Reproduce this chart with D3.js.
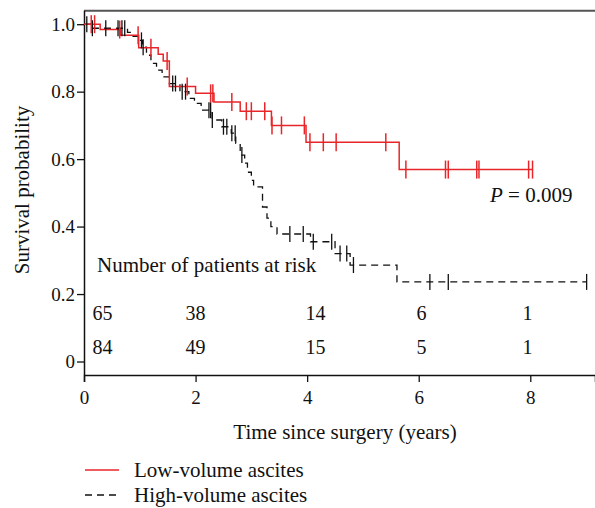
<!DOCTYPE html>
<html>
<head>
<meta charset="utf-8">
<script src="https://cdn.jsdelivr.net/npm/d3@7"></script>
<style>
  body { margin: 0; background: #fff; }
  text { font-family: "Liberation Serif", "DejaVu Serif", serif; fill: #111; }
</style>
</head>
<body>
<div class="diagram"></div>
<script>
// step changes [time, survival after drop]
const lowSteps = [[0.29, 0.984], [0.65, 0.967], [0.98, 0.930], [1.33, 0.911], [1.42, 0.891], [1.53, 0.815],
  [2.0, 0.795], [2.33, 0.769], [2.8, 0.742], [3.36, 0.700], [3.98, 0.650], [5.65, 0.569]];
const lowEnd = 8.05;
const lowCensor = [0.13, 0.19, 0.64, 0.97, 1.2, 1.49, 1.85, 2.27, 2.31, 2.65, 2.91, 3.0, 3.24, 3.37, 3.54,
  3.95, 4.05, 4.29, 4.52, 5.41, 5.77, 6.48, 6.53, 7.04, 7.08, 7.97, 8.04];

const highSteps = [[0.15, 0.988], [0.78, 0.976], [0.88, 0.964], [0.97, 0.952], [1.05, 0.932], [1.12, 0.908],
  [1.2, 0.884], [1.3, 0.864], [1.4, 0.844], [1.53, 0.824], [1.72, 0.800], [1.88, 0.780], [1.98, 0.765],
  [2.1, 0.745], [2.3, 0.716], [2.47, 0.696], [2.64, 0.677], [2.72, 0.647], [2.8, 0.612], [2.88, 0.588],
  [2.93, 0.561], [3.0, 0.537], [3.04, 0.518], [3.2, 0.458], [3.28, 0.425], [3.35, 0.400], [3.46, 0.378],
  [4.06, 0.355], [4.5, 0.320], [4.77, 0.286], [5.61, 0.236]];
const highEnd = 9.01;
const highCensor = [0.05, 0.15, 0.39, 0.61, 0.68, 0.73, 1.03, 1.06, 1.59, 1.64, 1.76, 1.82, 2.24, 2.27, 2.30,
  2.5, 2.56, 2.65, 2.71, 2.83, 3.69, 3.93, 4.11, 4.44, 4.59, 4.71, 4.83, 6.2, 6.53, 9.01];

const xTicks = [0, 2, 4, 6, 8];
const yTicks = [0, 0.2, 0.4, 0.6, 0.8, 1.0];
const riskLow = ["65", "38", "14", "6", "1"];
const riskHigh = ["84", "49", "15", "5", "1"];
const riskAt = [0.33, 2, 4.15, 6.05, 7.95];
const groups = ["Low-volume ascites", "High-volume ascites"];
const pText = "0.009";

const w = 595, h = 508,
padLeft = 84, padTop = 10.7, axisY = 375,
red = "#e8262a",
fs = "21px";

const svg = d3.select(".diagram")
  .append("svg")
  .attr("width", w)
  .attr("height", h);

const xScale = d3.scaleLinear()
  .domain([0, 9.16])
  .range([padLeft, w]);
const yScale = d3.scaleLinear()
  .domain([-0.04, 1.04])
  .range([axisY, padTop]);

// survival at time t
const survAt = (steps, t) => {
  let s = 1;
  steps.forEach(d => { if (d[0] <= t) s = d[1]; });
  return s;
};
const stepPoints = (steps, end) => {
  const pts = [[0, 1]];
  steps.forEach(d => pts.push([d[0], d[1]]));
  pts.push([end, steps[steps.length - 1][1]]);
  return pts;
};
const line = d3.line()
  .x(d => xScale(d[0]))
  .y(d => yScale(d[1]))
  .curve(d3.curveStepAfter);

// frame
svg.append("line")
  .attr("x1", padLeft).attr("x2", w)
  .attr("y1", padTop).attr("y2", padTop)
  .attr("stroke", "#555").attr("stroke-width", 2);

const xAxis = d3.axisBottom(xScale)
  .tickValues(xTicks)
  .tickSize(7)
  .tickFormat(d3.format("d"));
const yAxis = d3.axisLeft(yScale)
  .tickValues(yTicks)
  .tickSize(7)
  .tickFormat(d => d === 0 ? "0" : d3.format(".1f")(d));

const gx = svg.append("g")
  .attr("transform", "translate(0," + axisY + ")")
  .call(xAxis);
const gy = svg.append("g")
  .attr("transform", "translate(" + padLeft + ",0)")
  .call(yAxis);
[gx, gy].forEach(g => {
  g.select(".domain").attr("stroke", "#111").attr("stroke-width", 1.5);
  g.selectAll(".tick line").attr("stroke", "#111").attr("stroke-width", 1.3);
  g.selectAll(".tick text").style("font-size", "19px").attr("fill", "#111");
});
gx.selectAll(".tick text").attr("dy", "1.0em");
gy.selectAll(".tick text").attr("x", -9);
gy.select(".domain").attr("d", "M0.5," + padTop + "V" + axisY);

// curves
svg.append("path")
  .attr("d", line(stepPoints(highSteps, highEnd)))
  .attr("fill", "none")
  .attr("stroke", "#111")
  .attr("stroke-width", 1.3)
  .attr("stroke-dasharray", "7,5");
svg.append("path")
  .attr("d", line(stepPoints(lowSteps, lowEnd)))
  .attr("fill", "none")
  .attr("stroke", red)
  .attr("stroke-width", 1.5);

svg.selectAll(".cens-high")
  .data(highCensor)
  .enter()
  .append("line")
  .attr("class", "cens-high")
  .attr("x1", d => xScale(d)).attr("x2", d => xScale(d))
  .attr("y1", d => yScale(survAt(highSteps, d)) - 8)
  .attr("y2", d => yScale(survAt(highSteps, d)) + 8)
  .attr("stroke", "#111").attr("stroke-width", 1.3);
svg.selectAll(".cens-low")
  .data(lowCensor)
  .enter()
  .append("line")
  .attr("class", "cens-low")
  .attr("x1", d => xScale(d)).attr("x2", d => xScale(d))
  .attr("y1", d => yScale(survAt(lowSteps, d)) - 9)
  .attr("y2", d => yScale(survAt(lowSteps, d)) + 9)
  .attr("stroke", red).attr("stroke-width", 1.5);

// p value
const pt = svg.append("text")
  .attr("x", 490).attr("y", 202)
  .style("font-size", fs);
pt.append("tspan").style("font-style", "italic").text("P");
pt.append("tspan").text(" = " + pText);

// number at risk
svg.append("text")
  .attr("x", 97).attr("y", 272)
  .style("font-size", fs)
  .text("Number of patients at risk");
[riskLow, riskHigh].forEach((row, k) => {
  svg.selectAll(".risk" + k)
    .data(row)
    .enter()
    .append("text")
    .attr("class", "risk" + k)
    .attr("x", (d, i) => xScale(riskAt[i]))
    .attr("y", k === 0 ? 320 : 354)
    .attr("text-anchor", "middle")
    .style("font-size", "20px")
    .text(d => d);
});

// axis titles
svg.append("text")
  .attr("transform", "rotate(-90)")
  .attr("x", -190).attr("y", 29)
  .attr("text-anchor", "middle")
  .style("font-size", fs)
  .text("Survival probability");
svg.append("text")
  .attr("x", 345).attr("y", 439)
  .attr("text-anchor", "middle")
  .style("font-size", fs)
  .text("Time since surgery (years)");

// legend
const leg = svg.selectAll(".legend")
  .data(groups)
  .enter()
  .append("g")
  .attr("class", "legend")
  .attr("transform", (d, i) => "translate(85," + (470 + i * 25) + ")");
leg.append("line")
  .attr("x1", 0).attr("x2", 34)
  .attr("stroke", (d, i) => i === 0 ? red : "#111")
  .attr("stroke-width", 1.3)
  .attr("stroke-dasharray", (d, i) => i === 0 ? null : "7,5");
leg.append("text")
  .attr("x", 49).attr("y", 7)
  .style("font-size", fs)
  .text(d => d);
</script>
</body>
</html>
